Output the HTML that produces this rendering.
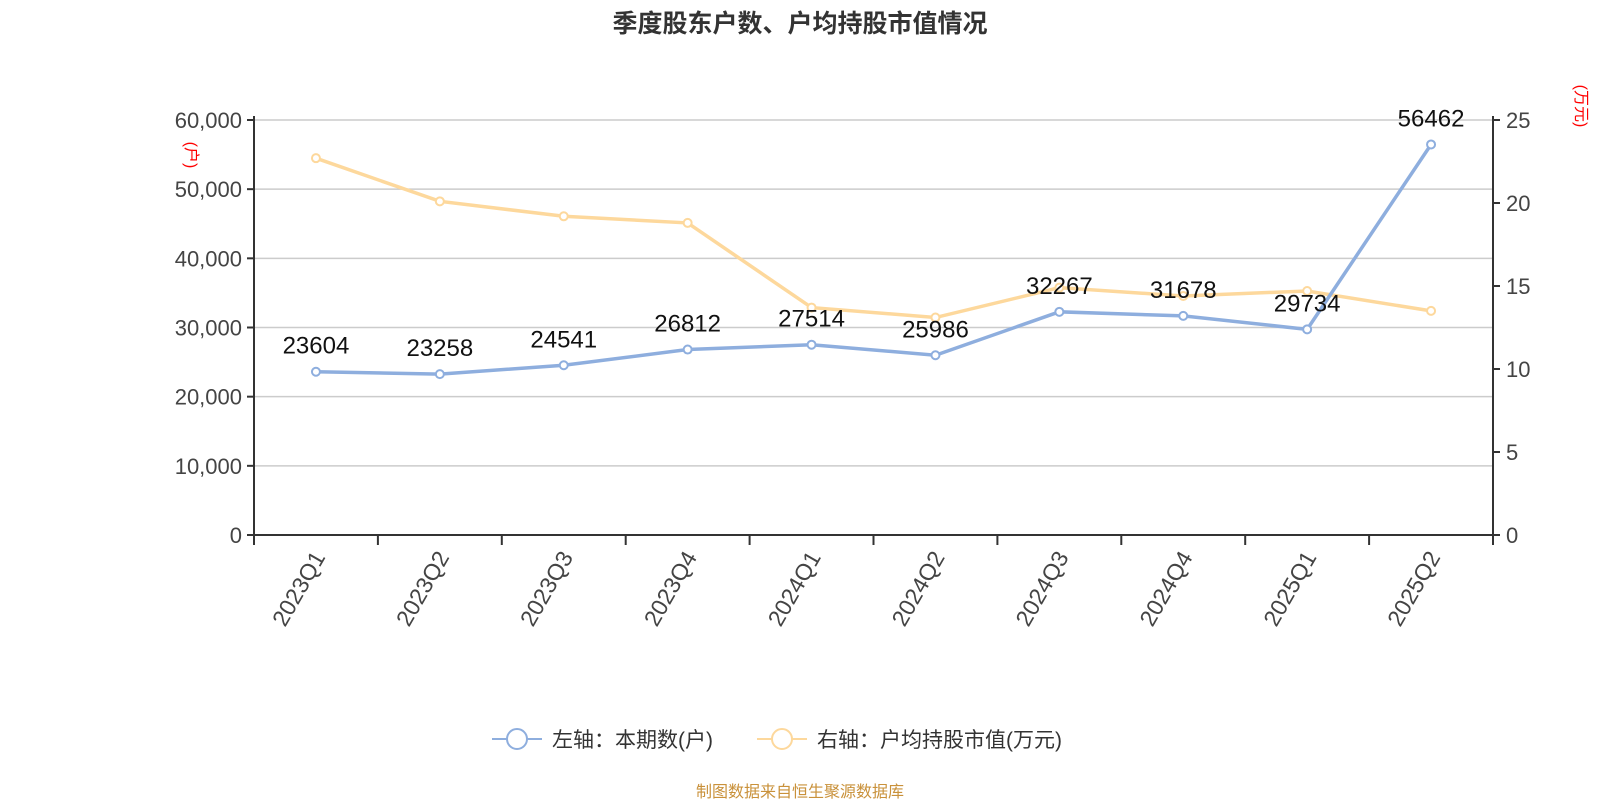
<!DOCTYPE html>
<html><head><meta charset="utf-8"><style>
body{margin:0;background:#fff;width:1600px;height:800px;overflow:hidden;font-family:"Liberation Sans","Noto Sans CJK SC",sans-serif}
</style></head><body>
<svg id="c" width="1600" height="800" font-family="Liberation Sans, Noto Sans CJK SC, sans-serif">
<text x="800" y="32" text-anchor="middle" font-size="25" font-weight="bold" fill="#333">季度股东户数、户均持股市值情况</text>
<g id="grid"></g><g id="axes"></g><g id="series"></g>
<text transform="translate(186,155) rotate(90)" text-anchor="middle" font-size="16" fill="red">(户)</text>
<text transform="translate(1576,106) rotate(90)" text-anchor="middle" font-size="16" fill="red">(万元)</text>
<g>
<line x1="492" y1="739" x2="542" y2="739" stroke="#8eaede" stroke-width="2"/>
<circle cx="517" cy="739" r="10" fill="#fff" stroke="#8eaede" stroke-width="2"/>
<text x="552" y="747" font-size="21" fill="#333">左轴：本期数(户)</text>
</g>
<g>
<line x1="757" y1="739" x2="807" y2="739" stroke="#fdd89c" stroke-width="2"/>
<circle cx="782" cy="739" r="10" fill="#fff" stroke="#fdd89c" stroke-width="2"/>
<text x="817" y="747" font-size="21" fill="#333">右轴：户均持股市值(万元)</text>
</g>
<text x="800" y="797" text-anchor="middle" font-size="16" fill="#c9913a">制图数据来自恒生聚源数据库</text>
</svg>
<script>
const categories=["2023Q1","2023Q2","2023Q3","2023Q4","2024Q1","2024Q2","2024Q3","2024Q4","2025Q1","2025Q2"];
const holders=[23604,23258,24541,26812,27514,25986,32267,31678,29734,56462];
const avgValue=[22.7,20.1,19.2,18.8,13.7,13.1,14.9,14.4,14.7,13.5];
const leftTicks=[0,10000,20000,30000,40000,50000,60000];
const rightTicks=[0,5,10,15,20,25];
const NS="http://www.w3.org/2000/svg";
const X0=254,X1=1493,Y0=535,Y1=120;
const band=(X1-X0)/categories.length;
const xs=i=>X0+band*(i+0.5);
const yl=v=>Y0-(v/60000)*(Y0-Y1);
const yr=v=>Y0-(v/25)*(Y0-Y1);
function mk(tag,attrs,parent,text){const e=document.createElementNS(NS,tag);for(const k in attrs)e.setAttribute(k,attrs[k]);if(text!==undefined)e.textContent=text;parent.appendChild(e);return e;}
const grid=document.getElementById('grid'),axes=document.getElementById('axes'),ser=document.getElementById('series');
leftTicks.forEach(t=>{const y=yl(t);
 if(t>0){const g=mk('line',{x1:X0,x2:X1,y1:y,y2:y,stroke:'#ccc','stroke-width':1.5},grid);
 
 }
 mk('line',{x1:X0-7,x2:X0,y1:y,y2:y,stroke:'#333','stroke-width':2},axes);
 const l=mk('text',{x:X0-12,y:y+8,'text-anchor':'end','font-size':22,fill:'#444'},axes,t.toLocaleString('en-US'));
 
 
});
rightTicks.forEach(t=>{const y=yr(t);
 mk('line',{x1:X1,x2:X1+7,y1:y,y2:y,stroke:'#333','stroke-width':2},axes);
 const l=mk('text',{x:X1+13,y:y+8,'font-size':22,fill:'#444'},axes,String(t));
 
 
});
mk('line',{x1:X0,x2:X0,y1:Y1-4,y2:Y0+10,stroke:'#333','stroke-width':2},axes);
mk('line',{x1:X1,x2:X1,y1:Y1-4,y2:Y0+10,stroke:'#333','stroke-width':2},axes);
mk('line',{x1:X0,x2:X1,y1:Y0,y2:Y0,stroke:'#333','stroke-width':2},axes);
for(let i=0;i<=categories.length;i++){const x=X0+band*i;mk('line',{x1:x,x2:x,y1:Y0,y2:Y0+10,stroke:'#333','stroke-width':2},axes);}
categories.forEach((c,i)=>{const x=xs(i);
 const l=mk('text',{transform:`translate(${x+10},${Y0+22}) rotate(-60)`,'text-anchor':'end','font-size':23,fill:'#444'},axes,c);
 
 
});
function line(vals,yf,color,name){
 const p=mk('polyline',{points:vals.map((v,i)=>xs(i)+','+yf(v)).join(' '),fill:'none',stroke:color,'stroke-width':3.5},ser);
 
 
 vals.forEach((v,i)=>{const c=mk('circle',{cx:xs(i),cy:yf(v),r:4,fill:'#fff',stroke:color,'stroke-width':2},ser);
  
  });
}
line(avgValue,yr,'#fdd89c','avg-value');
line(holders,yl,'#8eaede','holders');
holders.forEach((v,i)=>{const t=mk('text',{x:xs(i),y:yl(v)-18,'text-anchor':'middle','font-size':24,fill:'#111'},ser,String(v));
 
 });
</script>
</body></html>
